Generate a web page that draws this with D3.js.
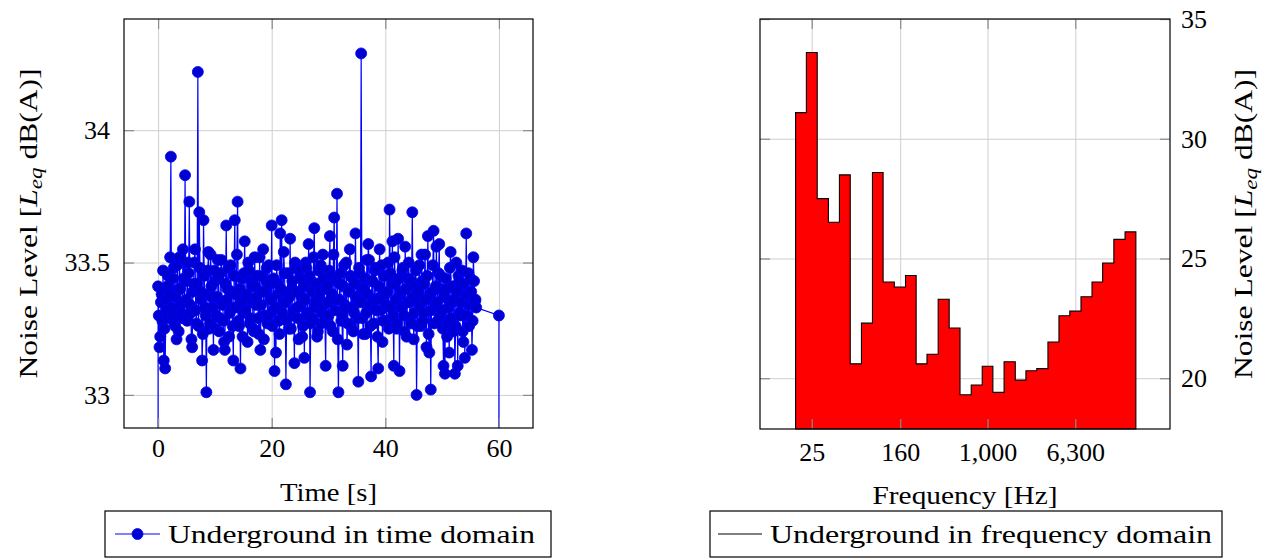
<!DOCTYPE html>
<html>
<head>
<meta charset="utf-8">
<script src="https://cdn.jsdelivr.net/npm/d3@7/dist/d3.min.js"></script>
<style>
  html, body { margin: 0; padding: 0; background: #fff; }
  svg { display: block; }
</style>
</head>
<body>
<svg id="chart" width="1275" height="559"></svg>
<script>
// Pick the first serif face that is actually installed.
function pickFont(candidates) {
  const ctx = document.createElement("canvas").getContext("2d");
  const probe = "Underground in frequency domain 1,000 Wmij";
  const widthWith = f => { ctx.font = `40px ${f}`; return ctx.measureText(probe).width; };
  const baseMono = widthWith("monospace"), baseSans = widthWith("sans-serif");
  for (const c of candidates) {
    if (widthWith(`'${c}', monospace`) !== baseMono || widthWith(`'${c}', sans-serif`) !== baseSans) return `'${c}'`;
  }
  return "serif";
}
const SERIF = pickFont(["Liberation Serif", "DejaVu Serif", "Noto Serif", "Tinos", "Times New Roman", "FreeSerif", "Nimbus Roman"]);

// ---- Time-domain recording: one reading every 0.125 s from t = 0 s ----
const sampleStep = 0.125;
const timeLevels = [
  33.41,33.30, 33.18,33.22, 33.35,33.38, 33.28,33.47, 33.13,33.25, 33.10,33.36, 33.32,33.41, 33.45,33.29, 33.38,33.52, 33.90,33.33,
  33.30,33.44, 33.48,33.27, 33.26,33.37, 33.21,33.49, 33.40,33.24, 33.52,33.40, 33.34,33.31, 33.29,33.55, 33.44,33.35, 33.83,33.43,
  33.36,33.28, 33.50,33.46, 33.73,33.34, 33.31,33.21, 33.18,33.39, 33.42,33.50, 33.55,33.32, 33.27,33.42, 34.22,33.26, 33.69,33.48,
  33.39,33.36, 33.13,33.23, 33.66,33.45, 33.33,33.30, 33.01,33.38, 33.47,33.54, 33.25,33.27, 33.53,33.41, 33.37,33.33, 33.17,33.47,
  33.43,33.25, 33.30,33.37, 33.51,33.44, 33.24,33.29, 33.46,33.51, 33.35,33.34, 33.28,33.20, 33.17,33.42, 33.64,33.36, 33.40,33.48,
  33.22,33.31, 33.49,33.39, 33.33,33.26, 33.13,33.45, 33.66,33.33, 33.38,33.53, 33.73,33.28, 33.26,33.40, 33.10,33.35, 33.44,33.22,
  33.31,33.46, 33.58,33.32, 33.36,33.38, 33.20,33.50, 33.47,33.27, 33.29,33.43, 33.41,33.35, 33.25,33.24, 33.52,33.41, 33.34,33.37,
  33.45,33.29, 33.23,33.52, 33.17,33.34, 33.39,33.45, 33.55,33.21, 33.30,33.39, 33.43,33.48, 33.27,33.30, 33.49,33.42, 33.36,33.36,
  33.64,33.26, 33.32,33.44, 33.09,33.33, 33.16,33.49, 33.42,33.38, 33.28,33.23, 33.61,33.40, 33.66,33.31, 33.35,33.54, 33.46,33.35,
  33.04,33.28, 33.38,33.46, 33.25,33.37, 33.59,33.25, 33.40,33.43, 33.30,33.32, 33.12,33.50, 33.48,33.39, 33.33,33.29, 33.21,33.47,
  33.44,33.34, 33.37,33.22, 33.26,33.41, 33.14,33.36, 33.50,33.48, 33.31,33.30, 33.57,33.45, 33.01,33.27, 33.43,33.39, 33.29,33.52,
  33.63,33.33, 33.35,33.42, 33.22,33.24, 33.47,33.37, 33.39,33.49, 33.27,33.31, 33.53,33.44, 33.34,33.28, 33.11,33.40, 33.41,33.35,
  33.30,33.47, 33.60,33.26, 33.45,33.38, 33.24,33.53, 33.67,33.32, 33.36,33.43, 33.76,33.21, 33.01,33.36, 33.42,33.46, 33.28,33.30,
  33.11,33.41, 33.49,33.34, 33.33,33.50, 33.19,33.27, 33.40,33.39, 33.55,33.45, 33.26,33.33, 33.44,33.24, 33.31,33.42, 33.61,33.37,
  33.37,33.29, 33.05,33.48, 33.46,33.35, 34.29,33.40, 33.29,33.23, 33.40,33.44, 33.23,33.31, 33.51,33.38, 33.57,33.51, 33.34,33.26,
  33.07,33.43, 33.43,33.36, 33.27,33.47, 33.48,33.32, 33.36,33.22, 33.10,33.41, 33.55,33.37, 33.32,33.49, 33.20,33.28, 33.45,33.45,
  33.38,33.34, 33.28,33.39, 33.50,33.25, 33.70,33.46, 33.33,33.42, 33.58,33.30, 33.11,33.52, 33.42,33.36, 33.25,33.27, 33.59,33.44,
  33.09,33.38, 33.39,33.33, 33.47,33.48, 33.30,33.24, 33.56,33.40, 33.22,33.35, 33.44,33.50, 33.35,33.29, 33.27,33.43, 33.69,33.37,
  33.21,33.31, 33.41,33.47, 33.00,33.26, 33.36,33.39, 33.49,33.34, 33.26,33.53, 33.43,33.28, 33.31,33.42, 33.53,33.36, 33.18,33.45,
  33.60,33.23, 33.16,33.38, 33.02,33.32, 33.39,33.49, 33.62,33.27, 33.34,33.41, 33.56,33.35, 33.28,33.46, 33.57,33.30, 33.45,33.40,
  33.32,33.25, 33.11,33.37, 33.08,33.44, 33.40,33.22, 33.27,33.33, 33.16,33.48, 33.54,33.29, 33.35,33.41, 33.24,33.36, 33.08,33.26,
  33.50,33.39, 33.11,33.45, 33.43,33.31, 33.30,33.35, 33.47,33.24, 33.20,33.42, 33.14,33.38, 33.61,33.30, 33.38,33.46, 33.26,33.34,
  33.44,33.39, 33.17,33.28, 33.52,33.43, 33.35,33.36, 33.33
];
// final reading of the record
const lastSample = [60, 33.30];

const timeTicks = [0, 20, 40, 60];
const timeLevelTicks = [33, 33.5, 34];

// ---- Third-octave spectrum ----
const bandCenters = [20, 25, 31.5, 40, 50, 63, 80, 100, 125, 160, 200, 250, 315, 400, 500, 630,
  800, 1000, 1250, 1600, 2000, 2500, 3150, 4000, 5000, 6300, 8000, 10000, 12500, 16000, 20000];
const bandLevels = [31.09, 33.60, 27.50, 26.51, 28.49, 20.60, 22.30, 28.59, 24.02, 23.81, 24.29, 20.60,
  21.00, 23.30, 22.10, 19.31, 19.72, 20.50, 19.41, 20.69, 19.92, 20.31, 20.40, 21.51, 22.61, 22.80,
  23.40, 24.02, 24.81, 25.80, 26.11];
const freqTicks = [25, 160, 1000, 6300];
const bandLevelTicks = [20, 25, 30, 35];

const svg = d3.select("#chart");
const FONT = 26;
const GRID = "#cfcfcf";
const TICK = "#8a8a8a";

function styleTicks(g) {
  g.select(".domain").remove();
  g.selectAll(".tick line").attr("stroke", TICK).attr("stroke-width", 1.2);
  g.selectAll(".tick text").attr("font-size", FONT).attr("font-family", SERIF).attr("fill", "#000");
}
function gridOnly(g) {
  g.select(".domain").remove();
  g.selectAll(".tick text").remove();
  g.selectAll(".tick line").attr("stroke", GRID).attr("stroke-width", 1);
}
function levelLabel(g, cx, cy) {
  const t = g.append("text").attr("transform", `translate(${cx},${cy}) rotate(-90)`)
    .attr("text-anchor", "middle").attr("font-size", FONT).attr("font-family", SERIF)
    .attr("textLength", 310).attr("lengthAdjust", "spacingAndGlyphs");
  t.append("tspan").text("Noise Level [");
  t.append("tspan").attr("font-style", "italic").text("L");
  t.append("tspan").attr("font-style", "italic").attr("font-size", 19).attr("dy", 5).text("eq");
  t.append("tspan").attr("dy", -5).text(" dB(A)]");
}
function title(g, cx, y, width, label) {
  g.append("text").attr("x", cx).attr("y", y).attr("text-anchor", "middle")
    .attr("font-size", FONT).attr("font-family", SERIF)
    .attr("textLength", width).attr("lengthAdjust", "spacingAndGlyphs").text(label);
}

// ================= Left panel: time domain =================
{
  const L = 124, R = 533, T = 19, B = 428;
  const x = d3.scaleLinear().domain([-6, 66]).range([L, R]);
  const y = d3.scaleLinear().domain([32.875, 34.42]).range([B, T]);
  const g = svg.append("g");

  g.append("g").attr("transform", `translate(0,${B})`)
    .call(d3.axisBottom(x).tickValues(timeTicks).tickSize(-(B - T)).tickFormat(""))
    .call(gridOnly);
  g.append("g").attr("transform", `translate(${L},0)`)
    .call(d3.axisLeft(y).tickValues(timeLevelTicks).tickSize(-(R - L)).tickFormat(""))
    .call(gridOnly);

  g.append("clipPath").attr("id", "clipTime")
    .append("rect").attr("x", L).attr("y", T).attr("width", R - L).attr("height", B - T);

  const pts = timeLevels.map((v, i) => [i * sampleStep, v]);
  pts.push(lastSample);
  // the trace rises from, and falls back to, the floor of the axis
  const trace = [[pts[0][0], y.domain()[0]], ...pts, [lastSample[0], y.domain()[0]]];

  const plot = g.append("g").attr("clip-path", "url(#clipTime)");
  plot.append("path")
    .attr("d", d3.line().x(d => x(d[0])).y(d => y(d[1]))(trace))
    .attr("fill", "none").attr("stroke", "#0000ff").attr("stroke-width", 1.2);
  plot.selectAll("circle").data(pts).join("circle")
    .attr("cx", d => x(d[0])).attr("cy", d => y(d[1])).attr("r", 5.5)
    .attr("fill", "#0000d0").attr("stroke", "#0000ff").attr("stroke-width", 0.8);

  // inward ticks on all four sides, labels bottom/left
  g.append("g").attr("transform", `translate(0,${B})`)
    .call(d3.axisBottom(x).tickValues(timeTicks).tickSize(-10).tickPadding(11).tickFormat(d3.format("d")))
    .call(styleTicks);
  g.append("g").attr("transform", `translate(0,${T})`)
    .call(d3.axisTop(x).tickValues(timeTicks).tickSize(-10).tickFormat(""))
    .call(styleTicks);
  g.append("g").attr("transform", `translate(${L},0)`)
    .call(d3.axisLeft(y).tickValues(timeLevelTicks).tickSize(-10).tickPadding(14).tickFormat(d3.format("")))
    .call(styleTicks);
  g.append("g").attr("transform", `translate(${R},0)`)
    .call(d3.axisRight(y).tickValues(timeLevelTicks).tickSize(-10).tickFormat(""))
    .call(styleTicks);

  g.append("rect").attr("x", L).attr("y", T).attr("width", R - L).attr("height", B - T)
    .attr("fill", "none").attr("stroke", "#000").attr("stroke-width", 1.2);

  title(g, (L + R) / 2, 501, 97, "Time [s]");
  levelLabel(g, 37, (T + B) / 2);

  // legend
  const lg = g.append("g");
  lg.append("rect").attr("x", 105).attr("y", 511).attr("width", 446).attr("height", 46)
    .attr("fill", "#fff").attr("stroke", "#000").attr("stroke-width", 1.2);
  lg.append("line").attr("x1", 115).attr("x2", 160).attr("y1", 534).attr("y2", 534)
    .attr("stroke", "#0000ff").attr("stroke-width", 1.2);
  lg.append("circle").attr("cx", 137.5).attr("cy", 534).attr("r", 5.5)
    .attr("fill", "#0000d0").attr("stroke", "#0000ff").attr("stroke-width", 0.8);
  lg.append("text").attr("x", 168).attr("y", 543).attr("font-size", FONT).attr("font-family", SERIF)
    .attr("textLength", 367).attr("lengthAdjust", "spacingAndGlyphs")
    .text("Underground in time domain");
}

// ================= Right panel: frequency domain =================
{
  const L = 760, R = 1170, T = 19, B = 429;
  const x = d3.scaleLog().domain([Math.pow(10, 0.927), Math.pow(10, 4.662)]).range([L, R]);
  const y = d3.scaleLinear().domain([17.88, 35]).range([B, T]);
  const g = svg.append("g");

  g.append("g").attr("transform", `translate(0,${B})`)
    .call(d3.axisBottom(x).tickValues(freqTicks).tickSize(-(B - T)).tickFormat(""))
    .call(gridOnly);
  g.append("g").attr("transform", `translate(${L},0)`)
    .call(d3.axisLeft(y).tickValues(bandLevelTicks).tickSize(-(R - L)).tickFormat(""))
    .call(gridOnly);

  // each band spans a third of an octave around its centre frequency
  const half = Math.pow(10, 0.05);
  const n = bandCenters.length;
  const steps = [
    { f: bandCenters[0] / half, v: bandLevels[0] },
    ...bandCenters.map((f, i) => ({ f, v: bandLevels[i] })),
    { f: bandCenters[n - 1] * half, v: bandLevels[n - 1] }
  ];
  const area = d3.area().curve(d3.curveStep)
    .x(d => x(d.f)).y0(B).y1(d => y(d.v));
  g.append("path").attr("d", area(steps))
    .attr("fill", "#ff0000").attr("stroke", "#000").attr("stroke-width", 1.1);

  g.append("g").attr("transform", `translate(0,${B})`)
    .call(d3.axisBottom(x).tickValues(freqTicks).tickSize(-10).tickPadding(14).tickFormat(d3.format(",")))
    .call(styleTicks);
  g.append("g").attr("transform", `translate(0,${T})`)
    .call(d3.axisTop(x).tickValues(freqTicks).tickSize(-10).tickFormat(""))
    .call(styleTicks);
  g.append("g").attr("transform", `translate(${L},0)`)
    .call(d3.axisLeft(y).tickValues(bandLevelTicks).tickSize(-10).tickFormat(""))
    .call(styleTicks);
  g.append("g").attr("transform", `translate(${R},0)`)
    .call(d3.axisRight(y).tickValues(bandLevelTicks).tickSize(-10).tickPadding(11).tickFormat(d3.format("d")))
    .call(styleTicks);

  g.append("rect").attr("x", L).attr("y", T).attr("width", R - L).attr("height", B - T)
    .attr("fill", "none").attr("stroke", "#000").attr("stroke-width", 1.2);

  title(g, (L + R) / 2, 504, 185, "Frequency [Hz]");
  levelLabel(g, 1252, (T + B) / 2);

  const lg = g.append("g");
  lg.append("rect").attr("x", 710).attr("y", 511).attr("width", 512).attr("height", 46)
    .attr("fill", "#fff").attr("stroke", "#000").attr("stroke-width", 1.2);
  lg.append("line").attr("x1", 718).attr("x2", 762).attr("y1", 534).attr("y2", 534)
    .attr("stroke", "#000").attr("stroke-width", 1.1);
  lg.append("text").attr("x", 770).attr("y", 543).attr("font-size", FONT).attr("font-family", SERIF)
    .attr("textLength", 442).attr("lengthAdjust", "spacingAndGlyphs")
    .text("Underground in frequency domain");
}
</script>
</body>
</html>
